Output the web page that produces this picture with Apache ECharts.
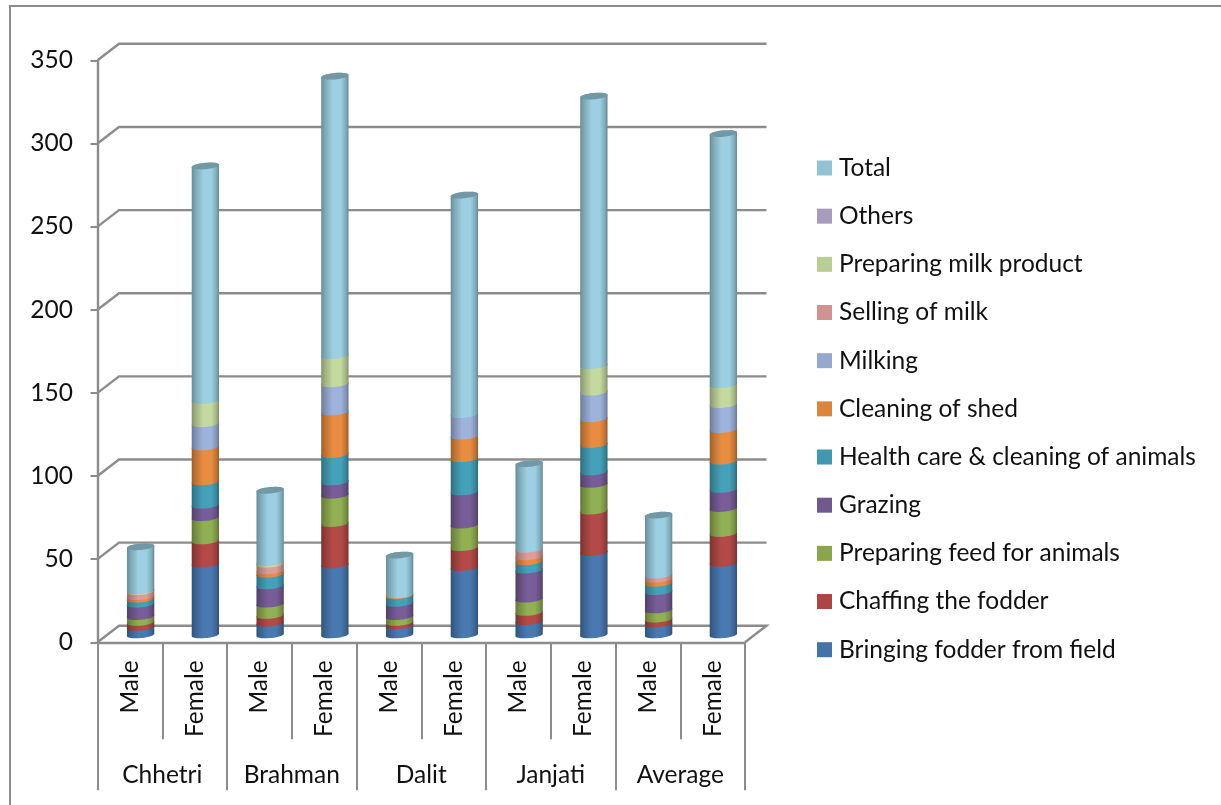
<!DOCTYPE html>
<html>
<head>
<meta charset="utf-8">
<title>Time spent on livestock activities</title>
<style>
html, body { margin: 0; padding: 0; background: #fff; }
#chart { width: 1221px; height: 805px; }
</style>
<script src="https://cdn.jsdelivr.net/npm/echarts@6/dist/echarts.min.js"></script>
</head>
<body>
<div id="chart"></div>
<script>
// Category labels
const genders = ['Male', 'Female', 'Male', 'Female', 'Male', 'Female', 'Male', 'Female', 'Male', 'Female'];
const groups = ['Chhetri', 'Brahman', 'Dalit', 'Janjati', 'Average'];
const yTicks = [0, 50, 100, 150, 200, 250, 300, 350];

// One value per bar: Chhetri M/F, Brahman M/F, Dalit M/F, Janjati M/F, Average M/F
const bringingFodder = [4.5, 42.5, 7, 42, 5.5, 40.5, 8, 49.5, 6.5, 43];
const chaffing = [3, 14, 4.7, 25, 2, 12, 5.5, 25, 3, 18];
const preparingFeed = [3.5, 14, 6.8, 17, 3.5, 13.5, 8, 16, 5.5, 15];
const grazing = [7.5, 7.5, 11, 8, 8, 20, 17.5, 7.5, 11, 11.5];
const healthCare = [3, 14, 7, 16.5, 4.5, 20, 5, 16.5, 5, 17];
const cleaningShed = [1.5, 21, 2, 25.5, 0.5, 13.5, 3, 15.5, 2.5, 19];
const milking = [0, 14, 0, 17, 0, 13, 0, 16, 0, 15];
const sellingMilk = [3, 0, 4, 0, 0, 0, 4.5, 0, 2.5, 0];
const milkProduct = [0.5, 14, 1, 17, 0, 0, 0, 16, 0, 12];
const others = [0, 0, 0, 0, 0, 0, 0, 0, 0, 0];
const total = [26.5, 141, 43.5, 168, 24, 132, 51.5, 162, 36, 151];

const seriesNames = ['Bringing fodder from field', 'Chaffing the fodder', 'Preparing feed for animals',
  'Grazing', 'Health care & cleaning of animals', 'Cleaning of shed', 'Milking',
  'Selling of milk', 'Preparing milk product', 'Others', 'Total'];
const seriesValues = [bringingFodder, chaffing, preparingFeed, grazing, healthCare,
  cleaningShed, milking, sellingMilk, milkProduct, others, total];
const seriesColors = ['#4572A7', '#AA4643', '#89A54E', '#71588F', '#4198AF', '#DB843D',
  '#95A9D0', '#D19392', '#B9CD96', '#A99BBD', '#92C3D4'];

// Oblique projection of the depth axis, in pixels
const DEPTH_X = 21.5;
const DEPTH_Y = -16.5;
const BAR_LIFT = 7.4;
const FONT = 'Lato';
const FONT_SIZE = 24.5;
const LINE = '#8c8c8c';
const TEXT = '#111111';

function shade(hex, k) {
  const n = parseInt(hex.slice(1), 16);
  const ch = [(n >> 16) & 255, (n >> 8) & 255, n & 255].map(function (v) {
    return Math.min(255, Math.round(v * k));
  });
  return 'rgb(' + ch.join(',') + ')';
}

// Half-ellipse of a cylinder section, tilted slightly upward to the right
function arc(cx, cy, rx, lower) {
  const pts = [];
  for (let i = 0; i <= 24; i++) {
    const t = Math.PI * i / 24;
    const c = lower ? Math.cos(Math.PI - t) : Math.cos(t);
    const s = Math.sin(t) * (lower ? 1 : -1);
    pts.push([cx + rx * c, cy + 3.2 * s - 1.2 * c]);
  }
  return pts;
}

function renderSegment(color, isTop) {
  return function (params, api) {
    const idx = api.value(0);
    const band = api.size([1, 0])[0];
    const rx = band * 0.211;
    const from = api.coord([idx, api.value(1)]);
    const to = api.coord([idx, api.value(2)]);
    const cx = from[0] + DEPTH_X / 2;
    const y0 = from[1] - BAR_LIFT;
    const y1 = to[1] - BAR_LIFT;
    const children = [];
    if (api.value(2) > api.value(1)) {
      const gradient = new echarts.graphic.LinearGradient(0, 0, 1, 0, [
        { offset: 0, color: shade(color, 0.72) },
        { offset: 0.14, color: shade(color, 0.86) },
        { offset: 0.42, color: shade(color, 1.06) },
        { offset: 0.72, color: shade(color, 1.06) },
        { offset: 0.9, color: shade(color, 0.88) },
        { offset: 1, color: shade(color, 0.7) }
      ]);
      children.push({
        type: 'polygon',
        shape: { points: arc(cx, y0, rx, true).concat(arc(cx, y1, rx, false)) },
        style: { fill: gradient }
      });
      if (isTop) {
        children.push({
          type: 'polygon',
          shape: { points: arc(cx, y1, rx, false).concat(arc(cx, y1, rx, true)) },
          style: { fill: shade(color, 0.78) }
        });
      }
    }
    return { type: 'group', children: children };
  };
}

// Side wall, back wall and floor edges for each tick value
function renderWall(params, api) {
  const band = api.size([1, 0])[0];
  const left = api.coord([0, api.value(1)]);
  const right = api.coord([genders.length - 1, api.value(1)]);
  const x0 = left[0] - band / 2;
  const x1 = right[0] + band / 2;
  const y = left[1];
  const style = { stroke: LINE, lineWidth: 2.4, fill: null };
  const points = [[x0, y], [x0 + DEPTH_X, y + DEPTH_Y], [x1 + DEPTH_X, y + DEPTH_Y]];
  if (api.value(1) === 0) points.push([x1, y]);
  return { type: 'polyline', shape: { points: points }, style: style };
}

let cumulative = genders.map(function () { return 0; });
const barSeries = seriesNames.map(function (name, s) {
  const data = seriesValues[s].map(function (v, i) {
    const item = [i, cumulative[i], cumulative[i] + v];
    cumulative[i] += v;
    return item;
  });
  return {
    type: 'custom',
    name: name,
    xAxisIndex: 0,
    yAxisIndex: 0,
    z: 5 + s,
    itemStyle: { color: seriesColors[s] },
    encode: { x: 0, y: [1, 2] },
    renderItem: renderSegment(seriesColors[s], s === seriesNames.length - 1),
    data: data
  };
});

const wallSeries = {
  type: 'custom',
  name: 'walls',
  z: 1,
  xAxisIndex: 0,
  yAxisIndex: 0,
  silent: true,
  encode: { x: 0, y: 1 },
  renderItem: renderWall,
  data: yTicks.map(function (v) { return [0, v]; })
};

const chart = echarts.init(document.getElementById('chart'), null, { renderer: 'canvas' });
chart.setOption({
  animation: false,
  backgroundColor: '#ffffff',
  graphic: [{
    type: 'polyline',
    silent: true,
    shape: { points: [[10, 805], [10, 6], [1221, 6]] },
    style: { stroke: LINE, lineWidth: 2, fill: null }
  }],
  grid: { left: 97.5, top: 60.3, width: 647.5, height: 582, containLabel: false },
  legend: {
    orient: 'vertical',
    left: 817,
    top: 155.5,
    padding: 0,
    itemWidth: 15,
    itemHeight: 15,
    itemGap: 23.17,
    icon: 'rect',
    selectedMode: false,
    data: seriesNames.slice().reverse(),
    textStyle: { fontFamily: FONT, fontSize: FONT_SIZE, color: TEXT, padding: [0, 0, 0, 2] }
  },
  xAxis: [{
    type: 'category',
    position: 'bottom',
    data: genders,
    axisLine: { show: true, onZero: false, lineStyle: { color: LINE, width: 2.4 } },
    axisTick: { show: true, length: 97, lineStyle: { color: LINE, width: 2 } },
    splitLine: { show: false },
    axisLabel: {
      rotate: 90, margin: 18, interval: 0, padding: [3, 0, 0, 0],
      fontFamily: FONT, fontSize: FONT_SIZE, color: TEXT
    }
  }, {
    type: 'category',
    position: 'bottom',
    data: groups,
    axisLine: { show: false, onZero: false },
    axisTick: { show: true, length: 148, lineStyle: { color: LINE, width: 2 } },
    splitLine: { show: false },
    axisLabel: {
      margin: 120, interval: 0,
      fontFamily: FONT, fontSize: FONT_SIZE, color: TEXT
    }
  }],
  yAxis: {
    type: 'value',
    min: 0,
    max: 350,
    interval: 50,
    axisLine: { show: true, lineStyle: { color: LINE, width: 2.4 } },
    axisTick: { show: true, length: 7, lineStyle: { color: LINE, width: 2 } },
    splitLine: { show: false },
    axisLabel: { margin: 24.5, padding: [2, 0, 0, 0], fontFamily: FONT, fontSize: FONT_SIZE, color: TEXT }
  },
  series: [wallSeries].concat(barSeries)
});
</script>
</body>
</html>
